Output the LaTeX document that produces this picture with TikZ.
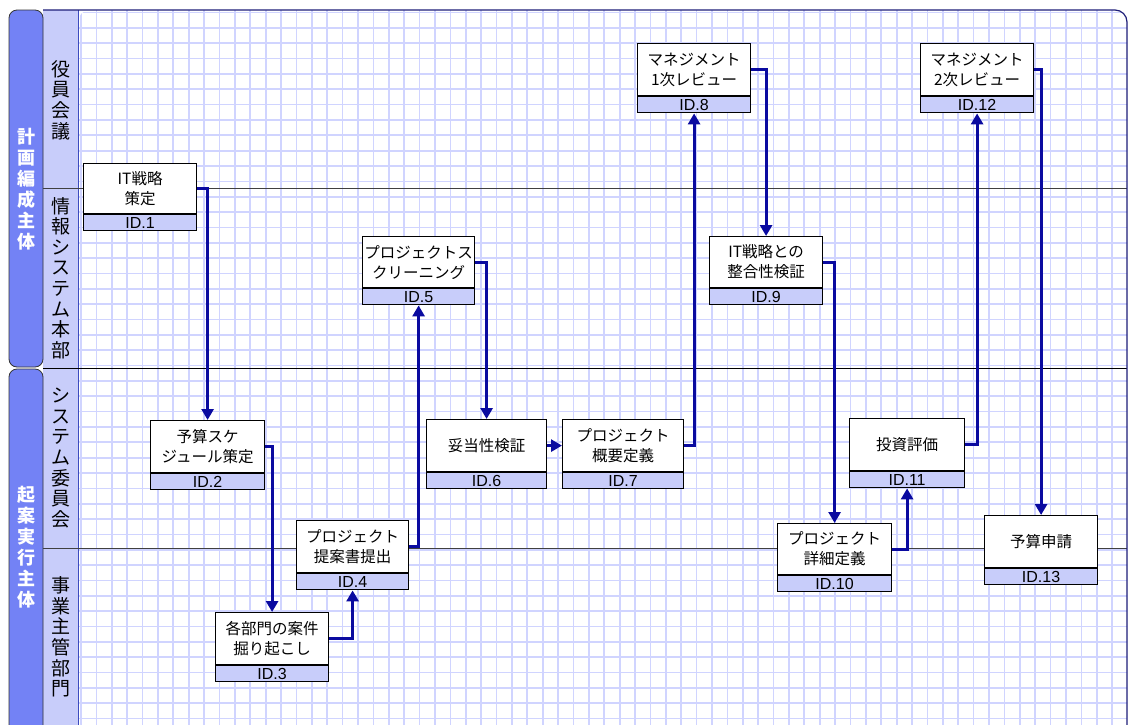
\documentclass[tikz,border=0pt]{standalone}
\usepackage{fontspec}
\setmainfont{Noto Sans CJK JP}
\newfontfamily\latinf{Liberation Sans}
\usetikzlibrary{arrows.meta}
\definecolor{barblue}{RGB}{115,130,245}
\definecolor{lav}{RGB}{200,205,250}
\definecolor{gridc}{RGB}{208,212,255}
\definecolor{framec}{RGB}{30,30,120}
\definecolor{arrowc}{RGB}{10,10,160}
\definecolor{colline}{RGB}{60,75,190}
\begin{document}
\begin{tikzpicture}[x=1pt,y=-1pt,
  mainbox/.style={draw=black, line width=1.2pt, fill=white, inner sep=0pt, align=center,
    font=\fontsize{15.5}{20}\selectfont, anchor=north west, minimum height=52pt},
  idbar/.style={draw=black, line width=1.2pt, fill=lav, inner sep=0pt, minimum height=16pt,
    anchor=north west, font=\latinf\fontsize{16}{16}\selectfont, text height=14pt, text depth=2pt},
  flow/.style={draw=arrowc, line width=3pt, line join=miter, -{Triangle[width=12pt,length=11pt]}},
  lanelab/.style={align=center, inner sep=0pt, font=\fontsize{19}{20.6}\selectfont},
  grouplab/.style={align=center, inner sep=0pt, text=white, font=\bfseries\fontsize{18}{21}\selectfont},
  gridline/.style={draw=gridc, line width=1.7pt},
  laneline/.style={draw=black!75, line width=0.8pt}
]
\useasboundingbox (0,0) rectangle (1128,724);
\fill[white] (0,0) rectangle (1128,724);
% grid
\begin{scope}
  \clip[rounded corners=12pt] (78,10) -- (1127,10) -- (1127,730) -- (78,730) -- cycle;
  \foreach \i in {0,...,68} \draw[gridline] ({81+15.39*\i},10) -- ({81+15.39*\i},730);
  \foreach \j in {0,...,46} \draw[gridline] (78,{12.5+15.35*\j}) -- (1128,{12.5+15.35*\j});
\end{scope}
% label column
\fill[lav] (43,10) rectangle (78,730);
\draw[colline, line width=1pt] (78,10) -- (78,730);
% lane lines
\draw[laneline] (43,188) -- (1127,188);
\draw[draw=black, line width=1pt] (43,368) -- (1127,368);
\draw[laneline] (43,548) -- (1127,548);
% group bars
\draw[fill=barblue, draw=black!80, line width=0.8pt, rounded corners=8pt] (9,10) rectangle (43,367);
\draw[fill=barblue, draw=black!80, line width=0.8pt, rounded corners=8pt] (9,369) rectangle (43,740);
% frame
\draw[framec, line width=1.2pt, rounded corners=12pt] (43,10) -- (1127,10) -- (1127,730);
% group labels
\node[grouplab] (g1) at (26,189) {計\\画\\編\\成\\主\\体};
\node[grouplab] (g2) at (26,547) {起\\案\\実\\行\\主\\体};
% lane labels
\node[lanelab] (l1) at (61,100) {役\\員\\会\\議};
\node[lanelab] (l2) at (61,278) {情\\報\\シ\\ス\\テ\\ム\\本\\部};
\node[lanelab] (l3) at (61,458) {シ\\ス\\テ\\ム\\委\\員\\会};
\node[lanelab] (l4) at (61,637) {事\\業\\主\\管\\部\\門};
% processes
\node[mainbox, minimum width=113pt, minimum height=50pt] (m1) at (83,163) {IT戦略\\策定};
\node[idbar, minimum width=113pt] (i1) at (m1.south west) {ID.1};
\node[mainbox, minimum width=114pt] (m2) at (150,420) {予算スケ\\ジュール策定};
\node[idbar, minimum width=114pt] (i2) at (m2.south west) {ID.2};
\node[mainbox, minimum width=113pt] (m3) at (215,612) {各部門の案件\\掘り起こし};
\node[idbar, minimum width=113pt] (i3) at (m3.south west) {ID.3};
\node[mainbox, minimum width=112pt] (m4) at (296,520) {プロジェクト\\提案書提出};
\node[idbar, minimum width=112pt] (i4) at (m4.south west) {ID.4};
\node[mainbox, minimum width=112pt, minimum height=51pt] (m5) at (362,236) {プロジェクトス\\クリーニング};
\node[idbar, minimum width=112pt] (i5) at (m5.south west) {ID.5};
\node[mainbox, minimum width=120pt] (m6) at (426,419) {妥当性検証};
\node[idbar, minimum width=120pt] (i6) at (m6.south west) {ID.6};
\node[mainbox, minimum width=121pt] (m7) at (562,419) {プロジェクト\\概要定義};
\node[idbar, minimum width=121pt] (i7) at (m7.south west) {ID.7};
\node[mainbox, minimum width=113pt] (m8) at (637,43) {マネジメント\\1次レビュー};
\node[idbar, minimum width=113pt] (i8) at (m8.south west) {ID.8};
\node[mainbox, minimum width=113pt, minimum height=51pt] (m9) at (709,236) {IT戦略との\\整合性検証};
\node[idbar, minimum width=113pt] (i9) at (m9.south west) {ID.9};
\node[mainbox, minimum width=114pt, minimum height=51pt] (m10) at (777,523) {プロジェクト\\詳細定義};
\node[idbar, minimum width=114pt] (i10) at (m10.south west) {ID.10};
\node[mainbox, minimum width=115pt] (m11) at (849,418) {投資評価};
\node[idbar, minimum width=115pt] (i11) at (m11.south west) {ID.11};
\node[mainbox, minimum width=113pt] (m12) at (920,43) {マネジメント\\2次レビュー};
\node[idbar, minimum width=113pt] (i12) at (m12.south west) {ID.12};
\node[mainbox, minimum width=113pt] (m13) at (984,515) {予算申請};
\node[idbar, minimum width=113pt] (i13) at (m13.south west) {ID.13};
% flows
\draw[flow] (m1.east) -| (m2.north);
\draw[flow] (m2.east) -| (m3.north);
\draw[flow] (m3.east) -| (i4.south);
\draw[flow] (m4.east) -| (i5.south);
\draw[flow] (m5.east) -| (m6.north);
\draw[flow] (m6.east) -- (m7.west);
\draw[flow] (m7.east) -| (i8.south);
\draw[flow] (m8.east) -| (m9.north);
\draw[flow] (m9.east) -| (m10.north);
\draw[flow] (m10.east) -| (i11.south);
\draw[flow] (m11.east) -| (i12.south);
\draw[flow] (m12.east) -| (m13.north);
\end{tikzpicture}
\end{document}
